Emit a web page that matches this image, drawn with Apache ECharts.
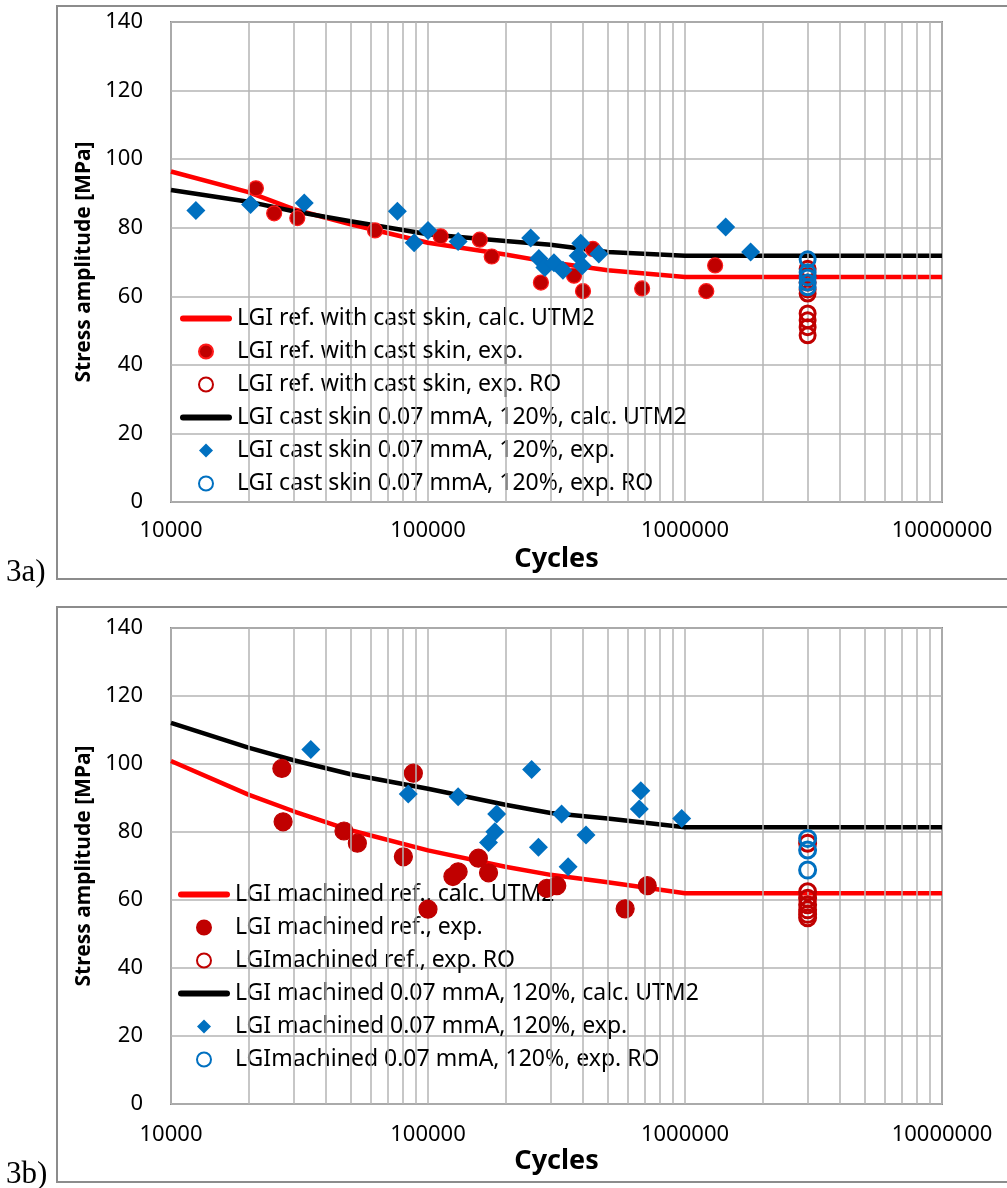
<!DOCTYPE html>
<html>
<head>
<meta charset="utf-8">
<script src="https://cdn.jsdelivr.net/npm/echarts@6/dist/echarts.min.js"></script>
<style>
html,body{margin:0;padding:0;background:#fff;}
#chart{width:1007px;height:1188px;}
</style>
</head>
<body>
<div id="chart"></div>
<script>
// ---------- data ----------
const xTickValues = [10000, 100000, 1000000, 10000000];
const minorGridValues = [20000,30000,40000,50000,60000,70000,80000,90000,
  200000,300000,400000,500000,600000,700000,800000,900000,
  2000000,3000000,4000000,5000000,6000000,7000000,8000000,9000000];

// --- chart 3a ---
const namesA = [
  'LGI ref. with cast skin, calc. UTM2',
  'LGI ref. with cast skin, exp.',
  'LGI ref. with cast skin, exp. RO',
  'LGI cast skin 0.07 mmA, 120%, calc. UTM2',
  'LGI cast skin 0.07 mmA, 120%, exp.',
  'LGI cast skin 0.07 mmA, 120%, exp. RO'
];
const refCalcA = [[10000,96.4],[20000,90.4],[30000,85.4],[50000,81.0],[100000,75.6],[200000,72.2],[300000,69.9],[500000,67.6],[1000000,65.6],[10000000,65.6]];
const refExpA = [[21400,91.5],[25200,84.2],[31000,82.8],[62200,79.2],[112000,77.5],[159000,76.5],[177000,71.6],[275000,64.0],[370000,66.0],[438000,73.8],[401000,61.5],[681000,62.3],[1210000,61.5],[1310000,69.0]];
const refRoA = [[3000000,68.0],[3000000,66.0],[3000000,64.0],[3000000,62.0],[3000000,60.8],[3000000,55.0],[3000000,53.0],[3000000,51.0],[3000000,48.6]];
const castCalcA = [[10000,91.0],[20000,87.6],[30000,84.8],[50000,81.9],[100000,78.1],[200000,76.1],[300000,75.0],[500000,72.9],[1000000,71.8],[10000000,71.8]];
const castExpA = [[12500,85.0],[20400,86.8],[33000,87.2],[76000,84.8],[88300,75.6],[100000,79.2],[131000,76.0],[251000,77.0],[270000,71.0],[285000,68.4],[309000,69.8],[335000,67.6],[393000,75.5],[384000,71.8],[398000,68.9],[462000,72.3],[1440000,80.2],[1800000,72.9]];
const castRoA = [[3000000,70.8],[3000000,67.0],[3000000,65.5],[3000000,64.0],[3000000,62.6]];

// --- chart 3b ---
const namesB = [
  'LGI machined ref., calc. UTM2',
  'LGI machined ref., exp.',
  'LGImachined ref., exp. RO',
  'LGI machined 0.07 mmA, 120%, calc. UTM2',
  'LGI machined 0.07 mmA, 120%, exp.',
  'LGImachined 0.07 mmA, 120%, exp. RO'
];
const refCalcB = [[10000,100.9],[20000,91.0],[30000,86.1],[50000,80.5],[100000,74.6],[200000,69.8],[300000,67.4],[500000,65.2],[1000000,62.0],[10000000,62.0]];
const refExpB = [[27000,98.7],[27300,83.0],[47100,80.3],[53100,76.7],[87700,97.3],[80200,72.7],[100000,57.3],[125000,66.9],[131000,68.3],[157000,72.3],[172000,68.0],[290000,63.4],[317000,64.2],[585000,57.4],[713000,64.2]];
const refRoB = [[3000000,76.7],[3000000,62.4],[3000000,60.5],[3000000,58.6],[3000000,57.1],[3000000,55.8],[3000000,54.8]];
const machCalcB = [[10000,112.1],[20000,104.8],[30000,101.1],[50000,97.0],[100000,92.7],[200000,88.0],[300000,85.6],[500000,84.0],[1000000,81.4],[10000000,81.4]];
const machExpB = [[35000,104.3],[83800,91.2],[131000,90.4],[253000,98.4],[185000,85.3],[182000,80.1],[172000,76.9],[269000,75.5],[331000,85.3],[351000,69.8],[412000,79.1],[673000,92.1],[664000,86.8],[971000,84.0]];
const machRoB = [[3000000,78.1],[3000000,74.7],[3000000,68.8]];

// ---------- styling ----------
const FONT = "'Noto Sans', 'DejaVu Sans', sans-serif";
const GRID_COLOR = '#b4b4b4';
const RED_LINE = '#ff0000';
const DARK_RED = '#c00000';
const BLUE = '#0070c0';
const LINE_ICON = 'path://M3,0 L49,0 A3,3 0 0 1 49,6 L3,6 A3,3 0 0 1 3,0 Z';
const DIAMOND_ICON = 'path://M7,0 L14,7 L7,14 L0,7 Z';
const legendIcons = [LINE_ICON, 'circle', 'circle', LINE_ICON, DIAMOND_ICON, 'circle'];

function xAxisCfg(gi, margin, nameGap) {
  return {
    type: 'log', logBase: 10, min: 10000, max: 10000000, gridIndex: gi,
    axisLine: {show: false}, axisTick: {show: false},
    axisLabel: {fontSize: 22, fontFamily: FONT, color: '#000', margin: margin,
      formatter: v => String(Math.round(v))},
    splitLine: {show: true, lineStyle: {color: GRID_COLOR, width: 1.5}},
    name: 'Cycles', nameLocation: 'middle', nameGap: nameGap,
    nameTextStyle: {fontSize: 27, fontWeight: 'bold', fontFamily: FONT, color: '#000'}
  };
}
function yAxisCfg(gi) {
  return {
    type: 'value', min: 0, max: 140, interval: 20, gridIndex: gi,
    axisLine: {show: false}, axisTick: {show: false},
    axisLabel: {fontSize: 22, fontFamily: FONT, color: '#000', margin: 28},
    splitLine: {show: true, lineStyle: {color: GRID_COLOR, width: 1.5}},
    name: 'Stress amplitude [MPa]', nameLocation: 'middle', nameGap: 71,
    nameTextStyle: {fontSize: 21, fontWeight: 'bold', fontFamily: FONT, color: '#000'}
  };
}
function minorSeries(gi) {
  return {
    type: 'line', name: 'minor' + gi, xAxisIndex: gi, yAxisIndex: gi, data: [],
    silent: true, z: 1,
    markLine: {silent: true, symbol: ['none', 'none'], label: {show: false},
      lineStyle: {color: GRID_COLOR, width: 1.5, type: 'solid'},
      emphasis: {disabled: true},
      data: minorGridValues.map(v => ({xAxis: v}))}
  };
}
function lineSeries(name, gi, data, color) {
  return {type: 'line', name: name, xAxisIndex: gi, yAxisIndex: gi, data: data,
    symbol: 'none', showSymbol: false, z: 3, silent: true,
    lineStyle: {color: color, width: 4.5}, itemStyle: {color: color}};
}
function dotSeries(name, gi, data, size, color, border) {
  return {type: 'scatter', name: name, xAxisIndex: gi, yAxisIndex: gi, data: data,
    symbol: 'circle', symbolSize: size, z: 4, silent: true,
    itemStyle: {color: color, borderColor: border, borderWidth: 1.2, opacity: 1}};
}
function ringSeries(name, gi, data, size, color, z) {
  return {type: 'scatter', name: name, xAxisIndex: gi, yAxisIndex: gi, data: data,
    symbol: 'circle', symbolSize: size, z: z, silent: true,
    itemStyle: {color: 'rgba(255,255,255,0)', borderColor: color, borderWidth: 3, opacity: 1}};
}
function diamondSeries(name, gi, data, size, z) {
  return {type: 'scatter', name: name, xAxisIndex: gi, yAxisIndex: gi, data: data,
    symbol: 'diamond', symbolSize: size, z: z, silent: true,
    itemStyle: {color: BLUE, opacity: 1}};
}
function legendCfg(names, left, top) {
  return {
    data: names.map((n, i) => ({name: n, icon: legendIcons[i]})),
    orient: 'vertical', left: left, top: top, symbolKeepAspect: true,
    itemWidth: 52, itemHeight: 14, itemGap: 10, selectedMode: false,
    textStyle: {fontSize: 23, fontFamily: FONT, color: '#000', lineHeight: 22, padding: [0, 0, 0, 0]},
    padding: 0
  };
}

const option = {
  animation: false,
  backgroundColor: '#fff',
  grid: [
    {left: 171, top: 22, width: 771, height: 480, show: true, borderColor: '#8c8c8c', borderWidth: 2, backgroundColor: '#fff'},
    {left: 171, top: 628, width: 771, height: 476, show: true, borderColor: '#8c8c8c', borderWidth: 2, backgroundColor: '#fff'}
  ],
  xAxis: [xAxisCfg(0, 18, 44), xAxisCfg(1, 20, 44)],
  yAxis: [yAxisCfg(0), yAxisCfg(1)],
  legend: [legendCfg(namesA, 180, 307), legendCfg(namesB, 178, 883)],
  graphic: [
    {type: 'rect', shape: {x: 57, y: 6, width: 960, height: 573}, style: {fill: 'none', stroke: '#8c8c8c', lineWidth: 2}, z: -1},
    {type: 'rect', shape: {x: 57, y: 607, width: 960, height: 575}, style: {fill: 'none', stroke: '#8c8c8c', lineWidth: 2}, z: -1},
    {type: 'text', left: 6, top: 557, style: {text: '3a)', fontSize: 31, fontFamily: "'Liberation Serif', serif", fill: '#000'}},
    {type: 'text', left: 6, top: 1159, style: {text: '3b)', fontSize: 31, fontFamily: "'Liberation Serif', serif", fill: '#000'}}
  ],
  series: [
    minorSeries(0),
    lineSeries(namesA[0], 0, refCalcA, RED_LINE),
    dotSeries(namesA[1], 0, refExpA, 15, DARK_RED, '#ff1a1a'),
    ringSeries(namesA[2], 0, refRoA, 15, DARK_RED, 5),
    lineSeries(namesA[3], 0, castCalcA, '#000000'),
    diamondSeries(namesA[4], 0, castExpA, 19, 6),
    ringSeries(namesA[5], 0, castRoA, 15, BLUE, 7),

    minorSeries(1),
    lineSeries(namesB[0], 1, refCalcB, RED_LINE),
    dotSeries(namesB[1], 1, refExpB, 18, DARK_RED, DARK_RED),
    ringSeries(namesB[2], 1, refRoB, 16, DARK_RED, 5),
    lineSeries(namesB[3], 1, machCalcB, '#000000'),
    diamondSeries(namesB[4], 1, machExpB, 19, 6),
    ringSeries(namesB[5], 1, machRoB, 16, BLUE, 7)
  ]
};

const chart = echarts.init(document.getElementById('chart'), null, {renderer: 'canvas'});
chart.setOption(option);
</script>
</body>
</html>
